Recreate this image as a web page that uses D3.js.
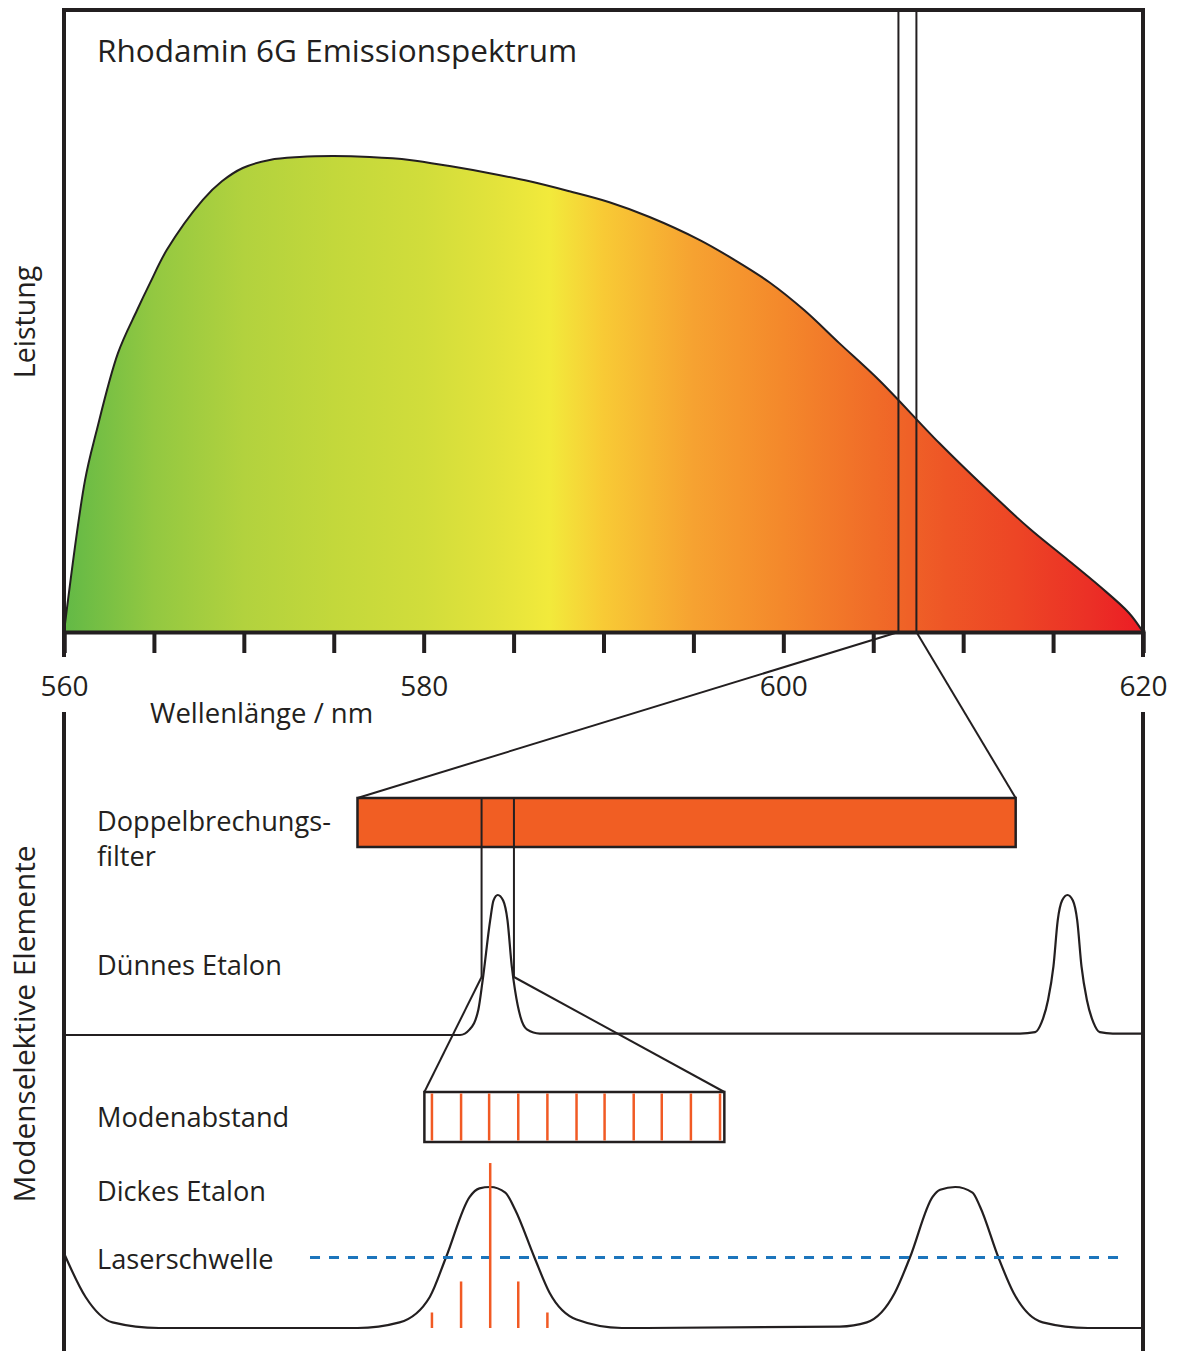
<!DOCTYPE html>
<html>
<head>
<meta charset="utf-8">
<script src="https://cdn.jsdelivr.net/npm/d3@7"></script>
<style>
  body { margin: 0; background: #fff; }
  svg { display: block; }
  text { font-family: "Open Sans", "Noto Sans", sans-serif; fill: #231f20; }
</style>
</head>
<body>
<svg id="chart" width="1181" height="1351"></svg>
<script>
// ---- Emission spectrum of Rhodamine 6G (wavelength in nm, power relative to maximum) ----
const wavelength = [560.0, 561.17, 561.78, 563.0, 564.06, 564.78, 565.72, 567.72, 568.78, 569.94,
                    571.44, 573.1, 574.94, 577.0, 579.22, 581.44, 583.67, 585.89, 588.11, 590.33,
                    592.56, 595.33, 597.28, 599.22, 601.17, 603.11, 605.33, 608.67, 611.17, 613.67,
                    615.61, 617.56, 619.22, 620.0];
const power = [0, 31.9, 41.8, 58.6, 67.6, 73.3, 80.3, 90.8, 94.7, 97.5,
               99.2, 99.8, 100, 99.8, 99.2, 97.9, 96.4, 94.7, 92.6, 90.3,
               87.2, 82.4, 78.2, 73.5, 67.6, 60.7, 52.9, 39.7, 30.5, 21.8,
               15.8, 9.7, 4.0, 0];

// Spectral colour fill along the wavelength axis
const colourNm = [560, 565, 570, 575, 580, 584, 587, 590, 595, 600, 605, 609, 613, 617, 620];
const colourHex = ["#62b946", "#93c841", "#b2d23e", "#c3d83b", "#d1dd3b", "#e3e33b", "#f2ea3b",
                   "#f8ca35", "#f6a231", "#f4882b", "#f06c28", "#ee5626", "#ed4525", "#eb3026", "#ec1c24"];

// Axis ticks
const tickNm = [560, 565, 570, 575, 580, 585, 590, 595, 600, 605, 610, 615, 620];
const labelledNm = [560, 580, 600, 620];

// Wavelength window passed by the birefringent filter (nm)
const filterWindowNm = [606.4, 607.4];

// ---- Mode-selective elements, relative frequency position 0..100 ----
// Birefringent filter passband and the thin-etalon window inside it
const filterBand = [27.2, 88.2];
const thinWindow = [38.7, 41.7];

// Thin etalon transmission
const thinPos = [0, 36.7, 37.6, 38.4, 38.8, 39.5, 39.8, 40.2, 40.7, 41.1, 41.5, 41.8, 42.3, 42.9, 44.1,
                 88.6, 90.0, 90.6, 91.2, 91.7, 92.1, 92.5, 93.0, 93.5, 93.9, 94.3, 94.8, 95.4, 96.0, 97.2, 100];
const thinT = [0, 0, 0.04, 0.18, 0.39, 0.82, 0.96, 1, 0.96, 0.82, 0.49, 0.32, 0.13, 0.04, 0.01,
               0.01, 0.02, 0.09, 0.25, 0.49, 0.82, 0.96, 1, 0.96, 0.82, 0.49, 0.25, 0.09, 0.02, 0.01, 0.01];

// Longitudinal modes of the resonator
const modePos = [34.1, 36.8, 39.4, 42.1, 44.8, 47.5, 50.1, 52.8, 55.4, 58.1, 60.8];
// Modes oscillating under the thick-etalon peak and their intensity
const lasingPos = [34.1, 36.8, 39.5, 42.1, 44.8];
const lasingGain = [0.11, 0.33, 1.17, 0.33, 0.11];

// Thick etalon transmission
const thickPos = [0, 2.0, 4.5, 8.8, 27.2, 31.1, 33.9, 35.4, 37.6, 38.5, 39.5, 40.9, 41.8, 43.6, 45.0, 47.5, 51.7,
                  71.9, 74.4, 77.0, 78.4, 80.5, 81.2, 82.6, 84.2, 84.9, 86.6, 88.0, 90.7, 94.9, 100];
const thickT = [0.53, 0.22, 0.04, 0, 0, 0.04, 0.22, 0.50, 0.93, 0.99, 1.0, 0.96, 0.84, 0.50, 0.25, 0.06, 0,
                0.01, 0.04, 0.25, 0.50, 0.93, 0.98, 1.0, 0.96, 0.86, 0.50, 0.25, 0.04, 0, 0];

// Laser threshold level and extent
const thresholdT = 0.5;
const thresholdSpan = [22.8, 98.2];

// ---------------------------------------------------------------------------
const ink = "#231f20";
const orange = "#f15a24";
const blue = "#1c75bc";
const svg = d3.select("#chart");

// Upper panel scales
const x = d3.scaleLinear().domain([560, 620]).range([64, 1143]);
const y = d3.scaleLinear().domain([0, 130.7]).range([632, 10]);

// Gradient
const defs = svg.append("defs");
const grad = defs.append("linearGradient")
  .attr("id", "spectrum")
  .attr("gradientUnits", "userSpaceOnUse")
  .attr("x1", x(560)).attr("x2", x(620)).attr("y1", 0).attr("y2", 0);
grad.selectAll("stop").data(colourNm).join("stop")
  .attr("offset", d => (d - 560) / 60)
  .attr("stop-color", (d, i) => colourHex[i]);

const spec = wavelength.map((w, i) => ({ w, p: power[i] }));

svg.append("path")
  .datum(spec)
  .attr("fill", "url(#spectrum)")
  .attr("stroke", ink)
  .attr("stroke-width", 2)
  .attr("stroke-linejoin", "round")
  .attr("d", d3.area().x(d => x(d.w)).y0(y(0)).y1(d => y(d.p)).curve(d3.curveCatmullRom.alpha(0.5)));

// Filter window lines through the spectrum
svg.selectAll("line.win").data(filterWindowNm).join("line")
  .attr("class", "win")
  .attr("x1", d => x(d)).attr("x2", d => x(d))
  .attr("y1", y(130.7)).attr("y2", y(0))
  .attr("stroke", ink).attr("stroke-width", 2);

// Frame of upper panel
svg.append("line").attr("x1", x(560) - 2).attr("x2", x(620) + 2).attr("y1", y(130.7)).attr("y2", y(130.7))
  .attr("stroke", ink).attr("stroke-width", 4);
[560, 620].forEach(v => {
  svg.append("line").attr("x1", x(v)).attr("x2", x(v)).attr("y1", y(130.7) - 2).attr("y2", 657)
    .attr("stroke", ink).attr("stroke-width", 4);
});

// Wavelength axis
const axis = d3.axisBottom(x)
  .tickValues(tickNm)
  .tickSize(21)
  .tickPadding(23)
  .tickFormat(d => labelledNm.includes(d) ? d : "");
const gAxis = svg.append("g").attr("transform", `translate(0,${y(0)})`).call(axis);
gAxis.select(".domain").attr("stroke", ink).attr("stroke-width", 4);
gAxis.selectAll(".tick line").attr("stroke", ink).attr("stroke-width", 4);
gAxis.selectAll(".tick text")
  .style("font-family", '"Open Sans", sans-serif')
  .attr("font-size", 28).attr("fill", ink);

svg.append("text").attr("x", 150).attr("y", 723).attr("font-size", 27.5).text("Wellenlänge / nm");
svg.append("text").attr("x", 97).attr("y", 62).attr("font-size", 31.5).text("Rhodamin 6G Emissionspektrum");
svg.append("text").attr("transform", "translate(35,322) rotate(-90)").attr("text-anchor", "middle")
  .attr("font-size", 28.5).text("Leistung");

// ---- Lower panel ----
const u = d3.scaleLinear().domain([0, 100]).range([64, 1143]);
const yThin = d3.scaleLinear().domain([0, 1]).range([1035, 895]);
const yThick = d3.scaleLinear().domain([0, 1]).range([1328, 1187]);

const filterTop = 798, filterBottom = 847;
const modeTop = 1092, modeBottom = 1142;
const windowEnd = 977;

// Frame sides
[0, 100].forEach(v => {
  svg.append("line").attr("x1", u(v)).attr("x2", u(v)).attr("y1", 712).attr("y2", 1351)
    .attr("stroke", ink).attr("stroke-width", 4);
});

// Zoom lines from spectrum to birefringent filter
svg.selectAll("line.zoom1").data([0, 1]).join("line")
  .attr("class", "zoom1")
  .attr("x1", i => x(filterWindowNm[i])).attr("y1", y(0))
  .attr("x2", i => u(filterBand[i])).attr("y2", filterTop)
  .attr("stroke", ink).attr("stroke-width", 2);

// Birefringent filter band
svg.append("rect")
  .attr("x", u(filterBand[0])).attr("y", filterTop)
  .attr("width", u(filterBand[1]) - u(filterBand[0])).attr("height", filterBottom - filterTop)
  .attr("fill", "#f15e23").attr("stroke", ink).attr("stroke-width", 2.5);

// Thin etalon window lines
svg.selectAll("line.win2").data(thinWindow).join("line")
  .attr("class", "win2")
  .attr("x1", d => u(d)).attr("x2", d => u(d))
  .attr("y1", filterTop).attr("y2", windowEnd)
  .attr("stroke", ink).attr("stroke-width", 2);

// Thin etalon transmission
const lineThin = d3.line().x((d, i) => u(thinPos[i])).y(d => yThin(d)).curve(d3.curveMonotoneX);
svg.append("path").datum(thinT).attr("fill", "none").attr("stroke", ink).attr("stroke-width", 2.2)
  .attr("d", lineThin);

// Zoom lines to mode spacing box
const modeBox = [33.4, 61.2];
svg.selectAll("line.zoom2").data([0, 1]).join("line")
  .attr("class", "zoom2")
  .attr("x1", i => u(thinWindow[i])).attr("y1", windowEnd)
  .attr("x2", i => u(modeBox[i])).attr("y2", modeTop)
  .attr("stroke", ink).attr("stroke-width", 2);

// Mode spacing box
svg.append("rect")
  .attr("x", u(modeBox[0])).attr("y", modeTop)
  .attr("width", u(modeBox[1]) - u(modeBox[0])).attr("height", modeBottom - modeTop)
  .attr("fill", "#fff").attr("stroke", ink).attr("stroke-width", 2.5);
svg.selectAll("line.mode").data(modePos).join("line")
  .attr("class", "mode")
  .attr("x1", d => u(d)).attr("x2", d => u(d))
  .attr("y1", modeTop + 1.5).attr("y2", modeBottom - 1.5)
  .attr("stroke", orange).attr("stroke-width", 2.5);

// Thick etalon transmission
const lineThick = d3.line().x((d, i) => u(thickPos[i])).y(d => yThick(d)).curve(d3.curveMonotoneX);
svg.append("path").datum(thickT).attr("fill", "none").attr("stroke", ink).attr("stroke-width", 2.2)
  .attr("d", lineThick);

// Laser threshold
svg.append("line")
  .attr("x1", u(thresholdSpan[0])).attr("x2", u(thresholdSpan[1]))
  .attr("y1", yThick(thresholdT)).attr("y2", yThick(thresholdT))
  .attr("stroke", blue).attr("stroke-width", 3).attr("stroke-dasharray", "10,9");

// Lasing modes
svg.selectAll("line.lase").data(lasingPos).join("line")
  .attr("class", "lase")
  .attr("x1", d => u(d)).attr("x2", d => u(d))
  .attr("y1", yThick(0)).attr("y2", (d, i) => yThick(lasingGain[i]))
  .attr("stroke", orange).attr("stroke-width", 2.5);

// Row labels
const rowLabels = [
  ["Doppelbrechungs-", 831], ["filter", 866], ["Dünnes Etalon", 975],
  ["Modenabstand", 1127], ["Dickes Etalon", 1201], ["Laserschwelle", 1269]
];
svg.selectAll("text.row").data(rowLabels).join("text")
  .attr("class", "row")
  .attr("x", 97).attr("y", d => d[1]).attr("font-size", 27.2).text(d => d[0]);

svg.append("text").attr("transform", "translate(35,1024) rotate(-90)").attr("text-anchor", "middle")
  .attr("font-size", 29.8).text("Modenselektive Elemente");
</script>
</body>
</html>
